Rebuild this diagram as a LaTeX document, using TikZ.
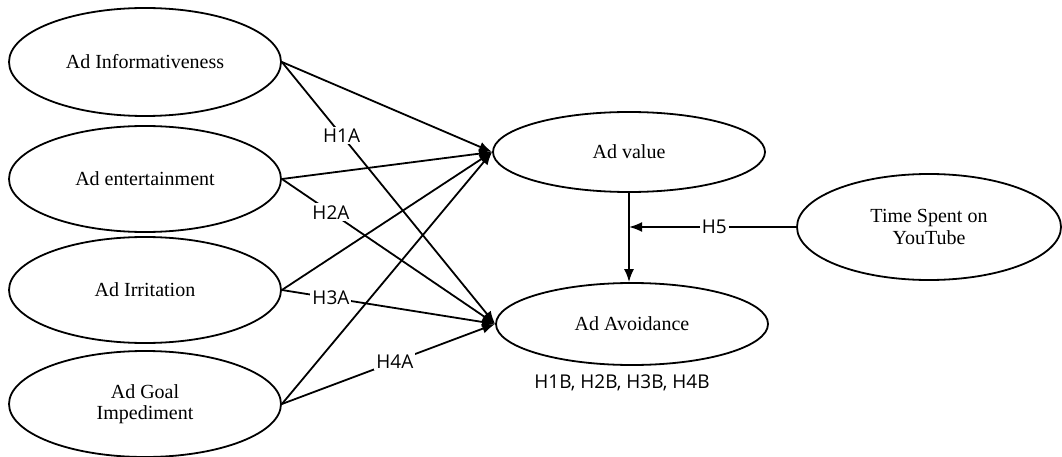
\documentclass[tikz,border=0pt]{standalone}
\usepackage{fontspec}
\setmainfont{Liberation Serif}
\newfontfamily\hfont{Open Sans}
\usetikzlibrary{shapes.geometric,arrows.meta}
\tikzset{
  construct/.style={ellipse, draw, line width=1.8pt, inner sep=0pt, align=center,
    font=\fontsize{20}{21.5}\selectfont},
  link/.style={line width=1.8pt, -{Latex[length=13pt,width=10pt]}},
  hyp/.style={fill=white, inner sep=2pt, font=\hfont\fontsize{19}{21}\selectfont},
}
\begin{document}
\begin{tikzpicture}[x=1pt,y=-1pt]
\useasboundingbox (0,0) rectangle (1062,457);
\node[construct, minimum width=272pt, minimum height=108pt] (inf) at (145,62) {Ad Informativeness};
\node[construct, minimum width=272pt, minimum height=106pt] (ent) at (145,179) {Ad entertainment};
\node[construct, minimum width=272pt, minimum height=106pt] (irr) at (145,290) {Ad Irritation};
\node[construct, minimum width=272pt, minimum height=106pt] (goal) at (145,404) {Ad Goal\\Impediment};
\node[construct, minimum width=272pt, minimum height=80pt] (val) at (629,152) {Ad value};
\node[construct, minimum width=272pt, minimum height=82pt] (avo) at (632,324) {Ad Avoidance};
\node[construct, minimum width=264pt, minimum height=106pt] (time) at (929,227) {Time Spent on\\YouTube};
\node[hyp, fill=none] (hb) at (622,383) {H1B, H2B, H3B, H4B};

% paths to Ad value
\draw[link] (inf.east) -- (val.west);
\draw[link] (ent.east) -- (val.west);
\draw[link] (irr.east) -- (val.west);
\draw[link] (goal.east) -- (val.west);

% paths to Ad Avoidance with labels
\draw[link] (inf.east) -- node[hyp, pos=0.28] (h1a) {H1A} (avo.west);
\draw[link] (ent.east) -- node[hyp, pos=0.23] (h2a) {H2A} (avo.west);
\draw[link] (irr.east) -- node[hyp, pos=0.23] (h3a) {H3A} (avo.west);
\draw[link] (goal.east) -- node[hyp, pos=0.53] (h4a) {H4A} (avo.west);

% Ad value -> Ad Avoidance
\coordinate (vs) at (val.south);
\coordinate (an) at (vs |- avo.north);
\draw[link] (vs) -- (an);

% moderation
\coordinate (mod) at (vs |- time.west);
\draw[link] (time.west) -- node[hyp, pos=0.49] (h5) {H5} (mod);
\end{tikzpicture}
\end{document}
